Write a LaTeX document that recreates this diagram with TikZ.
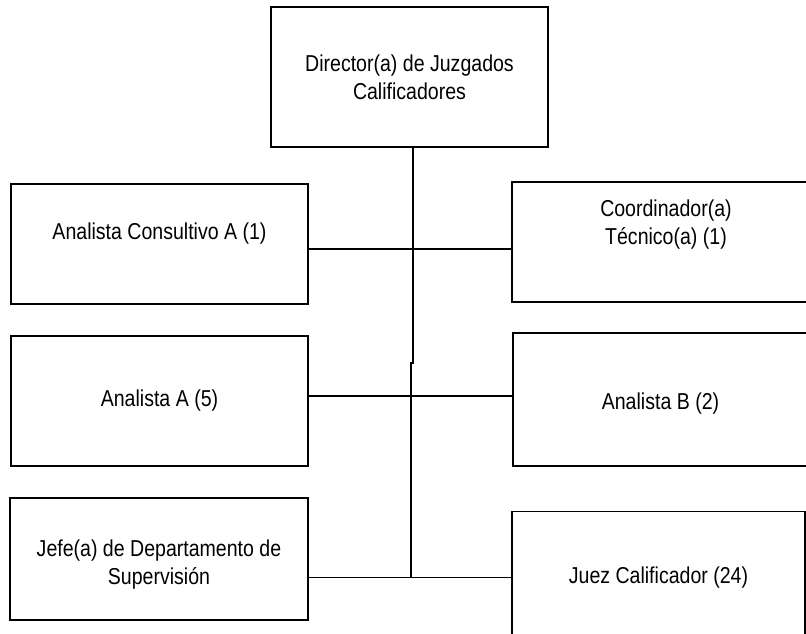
\documentclass[tikz,border=0pt]{standalone}
\usepackage{fontspec}
\setmainfont{Liberation Sans}[FakeStretch=0.85]
\usetikzlibrary{positioning}
\tikzstyle{unit} = [rectangle, draw=black, line width=1.5pt, text centered, align=center, font=\fontsize{23}{28}\selectfont]
\tikzstyle{link} = [line width=1.5pt]

\begin{document}
\begin{tikzpicture}[x=1pt, y=-1pt, node distance=157pt]
\useasboundingbox (0,0) rectangle (806,633);

\node (dir) [unit, minimum width=277pt, minimum height=140pt] at (409.5,77) {Director(a) de Juzgados\\Calificadores};
\node (cons) [unit, minimum width=297pt, minimum height=120pt, text depth=24.8pt] at (159.5,244) {Analista Consultivo A (1)};
\node (anaA) [unit, minimum width=297pt, minimum height=130pt, below of=cons] {Analista A (5)};
\node (jefe) [unit, minimum width=298pt, minimum height=122pt, text height=55.4pt, below of=anaA, xshift=-0.5pt, yshift=-1pt] {Jefe(a) de Departamento de\\Supervisión};
\node (coord) [unit, minimum width=308pt, minimum height=120pt, text depth=40pt, right of=cons, xshift=349.5pt, yshift=2pt] {Coordinador(a)\\Técnico(a) (1)};
\node (anaB) [unit, minimum width=295pt, minimum height=133pt, text height=23.8pt, below of=coord, xshift=-5.5pt, yshift=-0.5pt] {Analista B (2)};
\node (juez) [unit, minimum width=293pt, minimum height=132pt, below of=anaB, xshift=-2pt, yshift=-21pt] {Juez Calificador (24)};

% trunk from the director down to the last level
\coordinate (bend) at (413,363);
\draw [link] (dir.south -| bend) -- (bend) -- ++(-2,0) coordinate (trunk) -- (trunk |- juez.west);

% branches
\draw [link] ([yshift=-5pt]cons.east) -- ([yshift=-5pt]cons.east -| coord.west);
\draw [link] ([yshift=5pt]anaA.east) -- ([yshift=5pt]anaA.east -| anaB.west);
\draw [link] (jefe.east |- juez.west) -- (juez.west);

\end{tikzpicture}
\end{document}
